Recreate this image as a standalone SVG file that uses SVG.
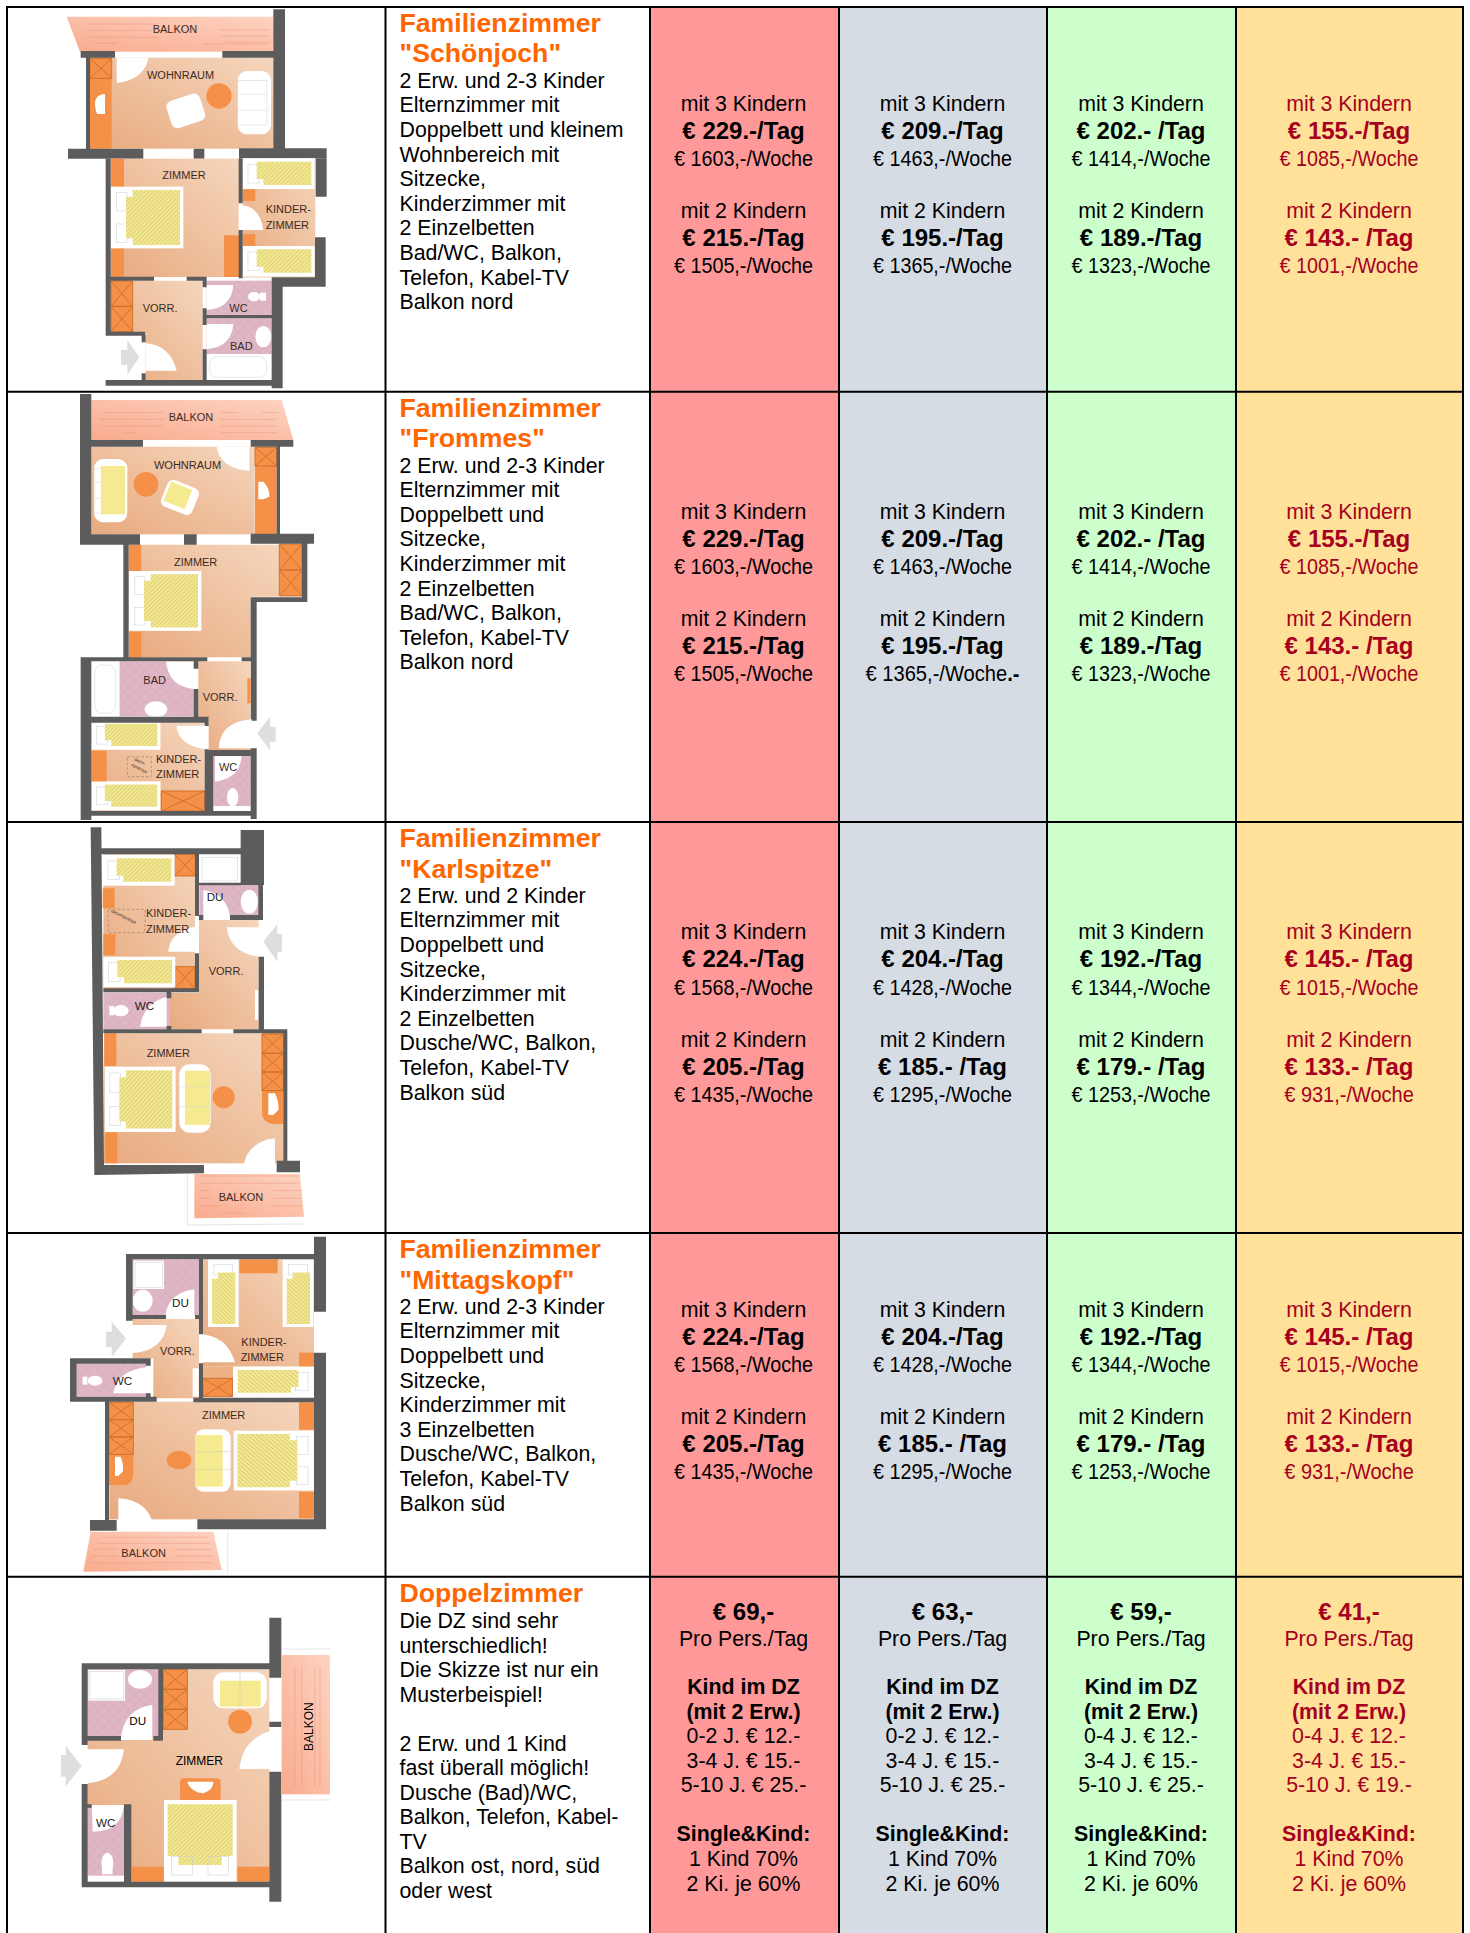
<svg xmlns="http://www.w3.org/2000/svg" width="1470" height="1933" viewBox="0 0 1470 1933">
<style>
text{font-family:"Liberation Sans",Arial,sans-serif;fill:#000}
.t{font-size:26.67px;font-weight:bold;fill:#ff6600}
.d{font-size:21.33px}
.m{font-size:21.33px;text-anchor:middle}
.b{font-size:24px;font-weight:bold;text-anchor:middle}
.s{font-size:21.33px;font-weight:bold;text-anchor:middle}
.w{font-size:21.33px;text-anchor:middle}
.r text,text.r{fill:#a50021}
.l{font-size:33px;fill:#3b2a22}
.k{font-size:35px;fill:#1c1c1c}
.wl{fill:#5c5c5c}
.wh{fill:#fff}
.or{fill:#f59049}
.x{stroke:#d0722c;stroke-width:1;fill:none}
.fl{fill:url(#room)}
.bal{fill:url(#bal)}
.pk{fill:url(#pink)}
.hy{fill:url(#hatch)}
.bl{stroke:#e98f6e;stroke-width:1.2;fill:none}
.ar{fill:#dedede}
.ln{stroke:#c8ccd4;stroke-width:1.5;fill:none}
.dsh{stroke:#8a6a50;stroke-width:1.5;stroke-dasharray:8 6;fill:none}
.rule{stroke:#000;stroke-width:2;fill:none}
</style>
<defs>
<linearGradient id="room" x1="0" y1="1" x2="1" y2="0"><stop offset="0" stop-color="#e8aa7f"/><stop offset="1" stop-color="#f5d6bd"/></linearGradient>
<linearGradient id="bal" x1="0" y1="1" x2="1" y2="0"><stop offset="0" stop-color="#f9ab8e"/><stop offset="1" stop-color="#fdd3c1"/></linearGradient>
<pattern id="hatch" width="9" height="9" patternUnits="userSpaceOnUse" patternTransform="rotate(45)"><rect width="9" height="9" fill="#f3e88f"/><rect width="1.6" height="9" fill="#c9bf6a"/></pattern>
<pattern id="pink" width="22" height="22" patternUnits="userSpaceOnUse" patternTransform="rotate(45)"><rect width="22" height="22" fill="#dfb6c5"/><path d="M0 0H22M0 0V22" stroke="#c496a9" stroke-width="1.2"/></pattern>
<g id="bedS"><rect width="216" height="92" fill="#fff"/><rect x="16" y="18" width="34" height="56" class="ln"/><path class="hy" d="M42 10H206V80H62V62H42Z"/></g>
<g id="bedD"><rect width="217" height="185" fill="#fff"/><rect x="16" y="18" width="32" height="55" class="ln"/><rect x="16" y="112" width="32" height="55" class="ln"/><path class="hy" d="M45 30H65V10H207V175H65V155H45Z"/></g>
<g id="sofa"><rect width="100" height="190" rx="28" fill="#fff"/><rect x="0" y="28" width="88" height="134" fill="none" stroke="#d4d4d4" stroke-width="1.5"/><path d="M0 70H88M0 118H88" stroke="#d4d4d4" stroke-width="1.5"/></g>
<g id="xb"><path class="x" d="M0 0L1 1M1 0L0 1" vector-effect="non-scaling-stroke"/><rect width="1" height="1" class="x" vector-effect="non-scaling-stroke"/></g>
</defs>

<g id="cell-backgrounds">
<rect x="650" y="7" width="189" height="1926" fill="#ff9999"/>
<rect x="839" y="7" width="208" height="1926" fill="#d6dce4"/>
<rect x="1047" y="7" width="189" height="1926" fill="#ccffcc"/>
<rect x="1236" y="7" width="227" height="1926" fill="#ffe199"/>
</g>

<g id="plan-schoenjoch" transform="scale(.33333)">
<path class="bal" d="M200 50H820V155H240Z"/>
<path class="bl" d="M255 72H470M260 92H455M262 112H475M280 130H350M660 90H810M665 108H810M670 126H810M610 132H800"/>
<rect class="fl" x="270" y="173" width="550" height="273"/>
<rect class="or" x="270" y="173" width="65" height="273"/>
<use href="#xb" transform="translate(270 175) scale(65 60)"/>
<path class="wl" d="M820 28h35v420h-35zM242 153h103v20H242zM667 153h155v20H667zM258 173h12v275h-12zM204 446h226v30H204zM581 446h32v30h-32zM717 445h263v30H717z"/>
<path class="wh" d="M350 173H445C440 215 400 245 350 248Z"/>
<path class="wh" d="M285 305Q290 282 315 282V342H292Q285 330 285 305Z"/>
<rect class="wh" x="505" y="290" width="105" height="85" rx="18" transform="rotate(-18 558 333)"/>
<circle class="or" cx="657" cy="288" r="38"/>
<use href="#sofa" transform="translate(713 213)"/>
<rect class="fl" x="332" y="476" width="385" height="355"/>
<path class="or" d="M332 476h40v85h-40zM332 745h40v85h-40zM672 706h45v125h-45z"/>
<use href="#bedD" transform="translate(333 560)"/>
<rect class="fl" x="728" y="475" width="218" height="357"/>
<use href="#bedS" transform="translate(728 475)"/>
<use href="#bedS" transform="translate(728 738)"/>
<path class="or" d="M728 568h38v35h-38zM728 702h38v35h-38z"/>
<path class="wh" d="M716 615Q780 615 790 690H716Z"/>
<path class="fl" d="M332 842H608V1140H437V1005H332Z"/>
<rect class="or" x="332" y="842" width="66" height="153"/>
<use href="#xb" transform="translate(333 843) scale(65 76)"/><use href="#xb" transform="translate(333 919) scale(65 76)"/>
<path class="wh" d="M437 1030Q510 1035 530 1112H437Z"/>
<rect class="pk" x="620" y="842" width="195" height="103"/>
<rect class="pk" x="620" y="955" width="195" height="107"/>
<path class="wh" d="M620 855H700Q695 925 620 930Z"/>
<path class="wh" d="M620 972H700Q695 1040 620 1048Z"/>
<ellipse class="wh" cx="762" cy="890" rx="18" ry="14"/><rect class="wh" x="780" y="878" width="18" height="24"/>
<ellipse class="wh" cx="790" cy="1010" rx="24" ry="32"/>
<rect class="wh" x="620" y="1062" width="195" height="78"/><rect class="ln" x="628" y="1070" width="172" height="62" rx="24"/>
<path class="wl" d="M317 476h15v530h-15zM317 995h118v12H317zM425 1005h12v22h-12zM425 1120h12v22h-12zM317 1140h530v17H317zM815 855h33v310h-33zM947 475h33v115h-33zM945 712h32v148h-32zM815 832h160v28H815zM716 475h12v135h-12zM716 690h12v145h-12zM332 830h130v12H332zM560 830h60v12h-60zM608 842h12v20h-12zM608 925h12v50h-12zM608 1048h12v104h-12zM620 945h195v10H620z"/>
<path class="ar" d="M363 1050H382V1020L418 1072 382 1125V1095H363Z"/>
<g class="lab">
<text class="l" x="458" y="98">BALKON</text><text class="l" x="441" y="236">WOHNRAUM</text><text class="l" x="487" y="537">ZIMMER</text><text class="l" x="797" y="640">KINDER-</text><text class="l" x="797" y="687">ZIMMER</text><text class="l" x="428" y="936">VORR.</text><text class="l" x="688" y="935">WC</text><text class="l" x="690" y="1050">BAD</text>
</g>
</g>

<g id="plan-frommes" transform="translate(0 390) scale(.33333)">
<path class="bal" d="M274 30H845L880 150H274Z"/>
<path class="bl" d="M305 68H490M300 88H495M305 108H490M370 128H405M660 68H715M785 68H835M660 88H830M660 108H830M660 128H830"/>
<rect class="fl" x="274" y="170" width="490" height="263"/>
<rect class="or" x="765" y="170" width="65" height="262"/>
<use href="#xb" transform="translate(765 172) scale(65 56)"/>
<path class="wh" d="M650 170H748V243Q660 235 650 170Z"/>
<path class="wh" d="M775 275H790Q810 295 808 320L790 328H775Z"/>
<use href="#sofa" transform="translate(282 207)"/><rect x="303" y="228" width="72" height="145" fill="#f6ea90"/>
<circle class="or" cx="438" cy="283" r="37"/>
<rect class="wh" x="490" y="280" width="100" height="85" rx="18" transform="rotate(22 540 322)"/>
<rect x="498" y="288" width="68" height="62" fill="#f6ea90" transform="rotate(22 540 322)"/>
<path class="fl" d="M386 464H838V620H752V802H386Z"/>
<rect class="or" x="838" y="462" width="68" height="156"/>
<use href="#xb" transform="translate(838 462) scale(68 78)"/><use href="#xb" transform="translate(838 540) scale(68 78)"/>
<path class="or" d="M386 464h38v80h-38zM386 725h38v78h-38z"/>
<use href="#bedD" transform="translate(387 543) scale(1 .97)"/>
<path class="wl" d="M240 12h34v452h-34zM274 150h155v20H274zM752 150h128v20H752zM830 170h10v262h-10zM240 433h180v31H240zM552 433h38v31h-38zM752 431h190v30H752zM370 464h16v340h-16zM906 461h16v175h-16zM752 622h170v14H752zM752 622h18v370h-18z"/>
<rect class="pk" x="358" y="814" width="223" height="165"/>
<rect class="wh" x="274" y="814" width="84" height="165"/><rect class="ln" x="284" y="825" width="62" height="145" rx="22"/>
<path class="wh" d="M498 814H582V897Q505 890 498 814Z"/>
<ellipse class="wh" cx="468" cy="958" rx="34" ry="24"/>
<rect class="fl" x="274" y="998" width="340" height="265"/>
<use href="#bedS" transform="translate(274 992) scale(.96 .95)"/>
<use href="#bedS" transform="translate(274 1174) scale(.96 .95)"/>
<rect class="or" x="274" y="1082" width="46" height="92"/>
<rect class="or" x="484" y="1203" width="130" height="60"/><use href="#xb" transform="translate(484 1203) scale(130 60)"/>
<path class="wh" d="M530 1007H625V1078Q535 1070 530 1007Z"/>
<path class="fl" d="M595 814H752V1090H626V985H595Z"/>
<rect class="or" x="742" y="865" width="10" height="75"/>
<path class="wh" d="M755 988V1075H656Q660 995 755 988Z"/>
<rect class="pk" x="640" y="1098" width="112" height="150"/>
<path class="wh" d="M645 1098H725Q720 1165 645 1175Z"/>
<ellipse class="wh" cx="698" cy="1222" rx="17" ry="28"/>
<path class="wl" d="M242 802h380v12H242zM725 802h30v12h-30zM242 802h32v488h-32zM581 814h14v22h-14zM581 897h14v100h-14zM274 980h352v18H274zM614 998h12v10h-12zM614 1078h12v190h-12zM626 1080h130v18H626zM752 1075h18v212h-18zM626 1090h14v175h-14zM274 1263h496v14H274z"/>
<path class="ar" d="M772 1030L810 980V1010H827V1055H810V1080Z"/>
<rect class="dsh" x="382" y="1100" width="72" height="60"/>
<text font-size="11" fill="#3b2a22" transform="translate(402 1110) rotate(27)">DACH-</text>
<text font-size="11" fill="#3b2a22" transform="translate(393 1128) rotate(27)">FENSTER</text>
<text class="l" x="506" y="92">BALKON</text><text class="l" x="462" y="236">WOHNRAUM</text><text class="l" x="522" y="527">ZIMMER</text><text class="l" x="430" y="881">BAD</text><text class="l" x="608" y="932">VORR.</text><text class="l" x="468" y="1120">KINDER-</text><text class="l" x="468" y="1163">ZIMMER</text><text class="l" x="657" y="1143">WC</text>
</g>

<g id="plan-karlspitze" transform="translate(0 820) scale(.33333)">
<rect class="fl" x="310" y="103" width="275" height="405"/>
<rect class="or" x="524" y="103" width="62" height="65"/><use href="#xb" transform="translate(524 103) scale(62 65)"/>
<rect class="or" x="525" y="440" width="60" height="65"/><use href="#xb" transform="translate(525 440) scale(60 65)"/>
<use href="#bedS" transform="translate(308 105)"/>
<use href="#bedS" transform="translate(310 410)"/>
<path class="or" d="M308 205h36v60h-36zM310 342h36v64h-36z"/>
<path class="wh" d="M597 318V395H505Q510 330 597 318Z"/>
<rect class="wh" x="600" y="108" width="118" height="80"/><rect class="ln" x="606" y="113" width="106" height="70"/>
<rect class="pk" x="598" y="195" width="178" height="90"/>
<path class="wh" d="M610 210Q680 220 690 290H610Z"/>
<ellipse class="wh" cx="748" cy="245" rx="26" ry="36"/>
<path class="fl" d="M597 300H776V628H510V518H597Z"/>
<path class="wh" d="M680 322H778V410Q690 400 680 322Z"/>
<rect class="wh" x="765" y="510" width="10" height="90"/>
<rect class="pk" x="310" y="518" width="200" height="110"/>
<path class="wh" d="M500 530V620H420Q430 550 500 530Z"/>
<ellipse class="wh" cx="362" cy="572" rx="24" ry="17"/><rect class="wh" x="328" y="558" width="14" height="28"/>
<rect class="fl" x="312" y="640" width="538" height="390"/>
<path class="or" d="M313 640h36v98h-36zM316 937h36v93h-36z"/>
<path class="or" d="M786 640H850V912H815Q786 905 786 880Z"/>
<use href="#xb" transform="translate(786 642) scale(64 58)"/><use href="#xb" transform="translate(786 700) scale(64 56)"/><use href="#xb" transform="translate(786 756) scale(64 56)"/>
<path class="wh" d="M805 820H825Q838 850 835 870L820 885H805Z"/>
<use href="#bedD" transform="translate(314 740) scale(.98 1.06)"/>
<rect class="wh" x="538" y="733" width="94" height="205" rx="30"/><rect x="555" y="752" width="75" height="163" fill="#f6ea90"/><path d="M538 800H630M538 860H630" stroke="#d4d4d4" stroke-width="1.5"/>
<circle class="or" cx="671" cy="832" r="33"/>
<path class="wh" d="M825 955V1055H728Q735 965 825 955Z"/>
<path class="wl" d="M272 22H304L312 1035H612V1060L283 1065ZM304 85h418v18H304zM722 30h70v165h-70zM775 188h14v112h-14zM776 410h16v218h-16zM585 103h12v185h-12zM585 400h12v115h-12zM310 505h285v12H310zM597 188h125v8H597zM597 285h13v15h-13zM690 285h86v15H690zM500 515h14v20h-14zM500 618h14v10h-14zM310 628h295v12H310zM700 628h160v12H700zM850 628h12v400h-12zM830 1022h70v35h-70z"/>
<path class="ar" d="M790 365L832 312V342H846V395H832V425Z"/>
<path class="bal" d="M583 1062H900L912 1190 583 1195Z"/>
<path class="bl" d="M598 1068H895M598 1090H895M598 1112H630M820 1112H905M598 1135H630M820 1135H905M598 1158H660M810 1158H905M665 1180H735"/>
<path class="ln" d="M562 1062V1215L915 1212"/>
<rect class="dsh" x="325" y="268" width="110" height="70"/>
<text font-size="11" fill="#3b2a22" transform="translate(332 275) rotate(27)">DACHFENSTER</text>
<text class="k" x="620" y="242">DU</text><text class="l" x="438" y="291">KINDER-</text><text class="l" x="438" y="340">ZIMMER</text><text class="l" x="626" y="466">VORR.</text><text class="k" x="404" y="570">WC</text><text class="l" x="440" y="712">ZIMMER</text><text class="l" x="656" y="1142">BALKON</text>
</g>

<g id="plan-mittagskopf" transform="translate(0 1230) scale(.33333)">
<rect class="pk" x="398" y="88" width="200" height="167"/>
<rect class="wh" x="400" y="92" width="92" height="85"/><rect class="ln" x="405" y="97" width="82" height="75"/>
<ellipse class="wh" cx="428" cy="212" rx="30" ry="33"/>
<path class="wh" d="M583 178V265H495Q500 190 583 178Z"/>
<rect class="fl" x="609" y="88" width="333" height="322"/>
<rect class="or" x="718" y="88" width="115" height="42"/>
<use href="#bedS" transform="translate(716 88) rotate(90) scale(.94 1)" /><use href="#bedS" transform="translate(940 88) rotate(90) scale(.94 1)"/>
<path class="wh" d="M597 312Q680 315 705 397H597Z"/>
<rect class="or" x="897" y="368" width="45" height="42"/>
<rect x="609" y="410" width="90" height="90" fill="#eeb184"/>
<rect class="or" x="609" y="445" width="88" height="55"/><use href="#xb" transform="translate(609 445) scale(88 55)"/>
<use href="#bedS" transform="translate(942 410) scale(-1.11 .98)"/>
<path class="fl" d="M398 267H597V505H460V385H398Z"/>
<path class="wh" d="M390 285H500Q490 365 390 370Z"/>
<rect class="wh" x="578" y="415" width="18" height="85"/>
<rect class="pk" x="230" y="401" width="208" height="99"/>
<path class="wh" d="M445 410V490H340Q350 420 445 410Z"/>
<ellipse class="wh" cx="285" cy="452" rx="22" ry="15"/><rect class="wh" x="248" y="440" width="14" height="24"/>
<rect class="fl" x="328" y="515" width="614" height="353"/>
<path class="or" d="M327 517H400V735Q398 765 370 765H327Z"/>
<use href="#xb" transform="translate(327 517) scale(73 52)"/><use href="#xb" transform="translate(327 569) scale(73 52)"/><use href="#xb" transform="translate(327 621) scale(73 52)"/>
<path class="wh" d="M345 680H362Q372 705 368 725L355 738H345Z"/>
<path class="or" d="M897 517h45v82h-45zM897 785h45v80h-45z"/>
<rect class="wh" x="585" y="598" width="107" height="187" rx="26"/><rect x="585" y="615" width="83" height="155" fill="#f6ea90"/><path d="M585 665H692M585 718H692" stroke="#c9c9b0" stroke-width="1.5"/>
<ellipse class="or" cx="537" cy="690" rx="37" ry="28"/>
<use href="#bedD" transform="translate(942 602) scale(-1.11 .97)"/>
<path class="wh" d="M355 805Q450 810 462 898H355Z"/>
<path class="wl" d="M942 20h36v225h-36zM942 368h36v530h-36zM378 72h565v16H378zM378 72h20v200h-20zM378 255h120v12H378zM585 255h22v12h-22zM597 88h12v225h-12zM597 400h12v105h-12zM580 503h362v14H580zM210 385h240v16H210zM210 385h20v130h-20zM210 500h260v15H210zM438 385h14v22h-14zM438 490h14v12h-14zM315 515h12v355h-12zM592 868h386v30H592zM270 870h80v32h-80z"/>
<path class="ar" d="M378 325L335 275V305H318V352H335V382Z"/>
<path class="bal" d="M272 905H640L665 1020 250 1025Z"/>
<path class="bl" d="M310 922H625M295 940H630M280 958H355M525 958H635M275 978H355M525 978H640M265 998H640"/>
<path class="ln" d="M683 905V1030"/>
<text class="k" x="516" y="232">DU</text><text class="l" x="480" y="374">VORR.</text><text class="l" x="724" y="347">KINDER-</text><text class="l" x="722" y="392">ZIMMER</text><text class="k" x="338" y="465">WC</text><text class="l" x="606" y="568">ZIMMER</text><text class="l" x="364" y="982">BALKON</text>
</g>

<g id="plan-doppelzimmer" transform="translate(0 1570) scale(.33333)">
<rect class="fl" x="263" y="298" width="545" height="637"/>
<rect class="pk" x="263" y="298" width="225" height="200"/>
<rect class="wh" x="265" y="300" width="110" height="92"/><rect class="ln" x="270" y="305" width="100" height="82"/>
<ellipse class="wh" cx="420" cy="328" rx="36" ry="28"/>
<path class="wh" d="M457 405V510H362Q370 415 457 405Z"/>
<rect class="or" x="490" y="298" width="72" height="180"/>
<use href="#xb" transform="translate(490 298) scale(72 60)"/><use href="#xb" transform="translate(490 358) scale(72 60)"/><use href="#xb" transform="translate(490 418) scale(72 60)"/>
<rect class="wh" x="640" y="307" width="160" height="108" rx="30"/><rect x="660" y="332" width="122" height="78" fill="#f6ea90"/><path d="M720 307V412" stroke="#c9c9b0" stroke-width="1.5"/>
<circle class="or" cx="720" cy="455" r="36"/>
<path class="wh" d="M843 477V597H718Q730 490 843 477Z"/>
<path class="wh" d="M245 538H372Q360 640 245 640Z"/>
<rect class="pk" x="263" y="712" width="120" height="205"/>
<rect class="wh" x="263" y="917" width="120" height="18"/>
<path class="wh" d="M275 705H372Q365 785 278 785Z"/>
<ellipse class="wh" cx="322" cy="880" rx="18" ry="32"/><rect class="wh" x="306" y="895" width="32" height="18"/>
<rect class="or" x="540" y="625" width="122" height="70" rx="12"/>
<path class="wh" d="M563 635H640Q640 660 610 670Q575 668 563 640Z"/>
<rect class="wh" x="492" y="690" width="218" height="245"/>
<path class="hy" d="M503 703H698V858H665V885H535V858H503Z"/>
<rect class="ln" x="515" y="860" width="62" height="55"/><rect class="ln" x="624" y="860" width="62" height="55"/>
<path class="or" d="M396 890h95v45h-95zM712 890h95v45h-95z"/>
<path class="wl" d="M245 280h565v18H245zM245 280h18v245h-18zM245 642h18v310h-18zM245 935h565v17H245zM808 143h36v180h-36zM808 455h36v16h-36zM808 605h36v390h-36zM475 298h14v212h-14zM263 498h100v14H263zM460 498h28v14h-28zM263 703h12v10h-12zM372 703h22v232h-22z"/>
<path class="ar" d="M197 527V555H183V620H197V650L245 588Z"/>
<rect class="bal" x="845" y="255" width="145" height="418"/>
<path class="bl" d="M885 290V650M905 290V650M945 290V650M960 290V650"/>
<path class="ln" d="M845 237H992M845 690H992"/>
<text font-size="35" fill="#1c1c1c" x="388" y="466">DU</text><text font-size="36" fill="#1c1c1c" x="527" y="585">ZIMMER</text><text class="k" x="288" y="770">WC</text>
<text font-size="36" fill="#1c1c1c" transform="translate(939 543) rotate(-90)">BALKON</text>
</g>

<g id="descriptions">
<g id="desc-1"><text class="t" x="399.5" y="32">Familienzimmer</text><text class="t" x="399.5" y="62">"Schönjoch"</text>
<text class="d" x="399.5" y="87.8">2 Erw. und 2-3 Kinder</text><text class="d" x="399.5" y="112.4">Elternzimmer mit</text><text class="d" x="399.5" y="137">Doppelbett und kleinem</text><text class="d" x="399.5" y="161.6">Wohnbereich mit</text><text class="d" x="399.5" y="186.2">Sitzecke,</text><text class="d" x="399.5" y="210.8">Kinderzimmer mit</text><text class="d" x="399.5" y="235.4">2 Einzelbetten</text><text class="d" x="399.5" y="260">Bad/WC, Balkon,</text><text class="d" x="399.5" y="284.6">Telefon, Kabel-TV</text><text class="d" x="399.5" y="309.2">Balkon nord</text></g>
<g id="desc-2"><text class="t" x="399.5" y="416.8">Familienzimmer</text><text class="t" x="399.5" y="447.4">"Frommes"</text>
<text class="d" x="399.5" y="472.6">2 Erw. und 2-3 Kinder</text><text class="d" x="399.5" y="497.2">Elternzimmer mit</text><text class="d" x="399.5" y="521.8">Doppelbett und</text><text class="d" x="399.5" y="546.4">Sitzecke,</text><text class="d" x="399.5" y="571">Kinderzimmer mit</text><text class="d" x="399.5" y="595.6">2 Einzelbetten</text><text class="d" x="399.5" y="620.2">Bad/WC, Balkon,</text><text class="d" x="399.5" y="644.8">Telefon, Kabel-TV</text><text class="d" x="399.5" y="669.4">Balkon nord</text></g>
<g id="desc-3"><text class="t" x="399.5" y="847">Familienzimmer</text><text class="t" x="399.5" y="877.6">"Karlspitze"</text>
<text class="d" x="399.5" y="902.8">2 Erw. und 2 Kinder</text><text class="d" x="399.5" y="927.4">Elternzimmer mit</text><text class="d" x="399.5" y="952">Doppelbett und</text><text class="d" x="399.5" y="976.6">Sitzecke,</text><text class="d" x="399.5" y="1001.2">Kinderzimmer mit</text><text class="d" x="399.5" y="1025.8">2 Einzelbetten</text><text class="d" x="399.5" y="1050.4">Dusche/WC, Balkon,</text><text class="d" x="399.5" y="1075">Telefon, Kabel-TV</text><text class="d" x="399.5" y="1099.6">Balkon süd</text></g>
<g id="desc-4"><text class="t" x="399.5" y="1258">Familienzimmer</text><text class="t" x="399.5" y="1288.6">"Mittagskopf"</text>
<text class="d" x="399.5" y="1313.8">2 Erw. und 2-3 Kinder</text><text class="d" x="399.5" y="1338.4">Elternzimmer mit</text><text class="d" x="399.5" y="1363">Doppelbett und</text><text class="d" x="399.5" y="1387.6">Sitzecke,</text><text class="d" x="399.5" y="1412.2">Kinderzimmer mit</text><text class="d" x="399.5" y="1436.8">3 Einzelbetten</text><text class="d" x="399.5" y="1461.4">Dusche/WC, Balkon,</text><text class="d" x="399.5" y="1486">Telefon, Kabel-TV</text><text class="d" x="399.5" y="1510.6">Balkon süd</text></g>
<g id="desc-5"><text class="t" x="399.5" y="1602">Doppelzimmer</text>
<text class="d" x="399.5" y="1628">Die DZ sind sehr</text><text class="d" x="399.5" y="1652.5">unterschiedlich!</text><text class="d" x="399.5" y="1677">Die Skizze ist nur ein</text><text class="d" x="399.5" y="1701.5">Musterbeispiel!</text><text class="d" x="399.5" y="1750.5">2 Erw. und 1 Kind</text><text class="d" x="399.5" y="1775">fast überall möglich!</text><text class="d" x="399.5" y="1799.5">Dusche (Bad)/WC,</text><text class="d" x="399.5" y="1824">Balkon, Telefon, Kabel-</text><text class="d" x="399.5" y="1848.5">TV</text><text class="d" x="399.5" y="1873">Balkon ost, nord, süd</text><text class="d" x="399.5" y="1897.5">oder west</text></g>
</g>

<g id="prices">
<g id="prices-1">
<text class="m" x="743.5" y="110.7">mit 3 Kindern</text><text class="b" x="743.5" y="138.5">€ 229.-/Tag</text><text class="w" x="743.5" y="166" textLength="139" lengthAdjust="spacingAndGlyphs">€ 1603,-/Woche</text><text class="m" x="743.5" y="218">mit 2 Kindern</text><text class="b" x="743.5" y="246">€ 215.-/Tag</text><text class="w" x="743.5" y="273" textLength="139" lengthAdjust="spacingAndGlyphs">€ 1505,-/Woche</text>
<text class="m" x="942.5" y="110.7">mit 3 Kindern</text><text class="b" x="942.5" y="138.5">€ 209.-/Tag</text><text class="w" x="942.5" y="166" textLength="139" lengthAdjust="spacingAndGlyphs">€ 1463,-/Woche</text><text class="m" x="942.5" y="218">mit 2 Kindern</text><text class="b" x="942.5" y="246">€ 195.-/Tag</text><text class="w" x="942.5" y="273" textLength="139" lengthAdjust="spacingAndGlyphs">€ 1365,-/Woche</text>
<text class="m" x="1141" y="110.7">mit 3 Kindern</text><text class="b" x="1141" y="138.5">€ 202.- /Tag</text><text class="w" x="1141" y="166" textLength="139" lengthAdjust="spacingAndGlyphs">€ 1414,-/Woche</text><text class="m" x="1141" y="218">mit 2 Kindern</text><text class="b" x="1141" y="246">€ 189.-/Tag</text><text class="w" x="1141" y="273" textLength="139" lengthAdjust="spacingAndGlyphs">€ 1323,-/Woche</text>
<g class="r"><text class="m" x="1349" y="110.7">mit 3 Kindern</text><text class="b" x="1349" y="138.5">€ 155.-/Tag</text><text class="w" x="1349" y="166" textLength="139" lengthAdjust="spacingAndGlyphs">€ 1085,-/Woche</text><text class="m" x="1349" y="218">mit 2 Kindern</text><text class="b" x="1349" y="246">€ 143.- /Tag</text><text class="w" x="1349" y="273" textLength="139" lengthAdjust="spacingAndGlyphs">€ 1001,-/Woche</text></g>
</g>
<g id="prices-2" transform="translate(0 408)">
<text class="m" x="743.5" y="110.7">mit 3 Kindern</text><text class="b" x="743.5" y="138.5">€ 229.-/Tag</text><text class="w" x="743.5" y="166" textLength="139" lengthAdjust="spacingAndGlyphs">€ 1603,-/Woche</text><text class="m" x="743.5" y="218">mit 2 Kindern</text><text class="b" x="743.5" y="246">€ 215.-/Tag</text><text class="w" x="743.5" y="273" textLength="139" lengthAdjust="spacingAndGlyphs">€ 1505,-/Woche</text>
<text class="m" x="942.5" y="110.7">mit 3 Kindern</text><text class="b" x="942.5" y="138.5">€ 209.-/Tag</text><text class="w" x="942.5" y="166" textLength="139" lengthAdjust="spacingAndGlyphs">€ 1463,-/Woche</text><text class="m" x="942.5" y="218">mit 2 Kindern</text><text class="b" x="942.5" y="246">€ 195.-/Tag</text><text class="w" x="942.5" y="273" textLength="154" lengthAdjust="spacingAndGlyphs">€ 1365,-/Woche<tspan font-weight="bold">.-</tspan></text>
<text class="m" x="1141" y="110.7">mit 3 Kindern</text><text class="b" x="1141" y="138.5">€ 202.- /Tag</text><text class="w" x="1141" y="166" textLength="139" lengthAdjust="spacingAndGlyphs">€ 1414,-/Woche</text><text class="m" x="1141" y="218">mit 2 Kindern</text><text class="b" x="1141" y="246">€ 189.-/Tag</text><text class="w" x="1141" y="273" textLength="139" lengthAdjust="spacingAndGlyphs">€ 1323,-/Woche</text>
<g class="r"><text class="m" x="1349" y="110.7">mit 3 Kindern</text><text class="b" x="1349" y="138.5">€ 155.-/Tag</text><text class="w" x="1349" y="166" textLength="139" lengthAdjust="spacingAndGlyphs">€ 1085,-/Woche</text><text class="m" x="1349" y="218">mit 2 Kindern</text><text class="b" x="1349" y="246">€ 143.- /Tag</text><text class="w" x="1349" y="273" textLength="139" lengthAdjust="spacingAndGlyphs">€ 1001,-/Woche</text></g>
</g>
<g id="prices-3" transform="translate(0 828.5)">
<text class="m" x="743.5" y="110.7">mit 3 Kindern</text><text class="b" x="743.5" y="138.5">€ 224.-/Tag</text><text class="w" x="743.5" y="166" textLength="139" lengthAdjust="spacingAndGlyphs">€ 1568,-/Woche</text><text class="m" x="743.5" y="218">mit 2 Kindern</text><text class="b" x="743.5" y="246">€ 205.-/Tag</text><text class="w" x="743.5" y="273" textLength="139" lengthAdjust="spacingAndGlyphs">€ 1435,-/Woche</text>
<text class="m" x="942.5" y="110.7">mit 3 Kindern</text><text class="b" x="942.5" y="138.5">€ 204.-/Tag</text><text class="w" x="942.5" y="166" textLength="139" lengthAdjust="spacingAndGlyphs">€ 1428,-/Woche</text><text class="m" x="942.5" y="218">mit 2 Kindern</text><text class="b" x="942.5" y="246">€ 185.- /Tag</text><text class="w" x="942.5" y="273" textLength="139" lengthAdjust="spacingAndGlyphs">€ 1295,-/Woche</text>
<text class="m" x="1141" y="110.7">mit 3 Kindern</text><text class="b" x="1141" y="138.5">€ 192.-/Tag</text><text class="w" x="1141" y="166" textLength="139" lengthAdjust="spacingAndGlyphs">€ 1344,-/Woche</text><text class="m" x="1141" y="218">mit 2 Kindern</text><text class="b" x="1141" y="246">€ 179.- /Tag</text><text class="w" x="1141" y="273" textLength="139" lengthAdjust="spacingAndGlyphs">€ 1253,-/Woche</text>
<g class="r"><text class="m" x="1349" y="110.7">mit 3 Kindern</text><text class="b" x="1349" y="138.5">€ 145.- /Tag</text><text class="w" x="1349" y="166" textLength="139" lengthAdjust="spacingAndGlyphs">€ 1015,-/Woche</text><text class="m" x="1349" y="218">mit 2 Kindern</text><text class="b" x="1349" y="246">€ 133.- /Tag</text><text class="w" x="1349" y="273" textLength="129.5" lengthAdjust="spacingAndGlyphs">€ 931,-/Woche</text></g>
</g>
<g id="prices-4" transform="translate(0 1206)">
<text class="m" x="743.5" y="110.7">mit 3 Kindern</text><text class="b" x="743.5" y="138.5">€ 224.-/Tag</text><text class="w" x="743.5" y="166" textLength="139" lengthAdjust="spacingAndGlyphs">€ 1568,-/Woche</text><text class="m" x="743.5" y="218">mit 2 Kindern</text><text class="b" x="743.5" y="246">€ 205.-/Tag</text><text class="w" x="743.5" y="273" textLength="139" lengthAdjust="spacingAndGlyphs">€ 1435,-/Woche</text>
<text class="m" x="942.5" y="110.7">mit 3 Kindern</text><text class="b" x="942.5" y="138.5">€ 204.-/Tag</text><text class="w" x="942.5" y="166" textLength="139" lengthAdjust="spacingAndGlyphs">€ 1428,-/Woche</text><text class="m" x="942.5" y="218">mit 2 Kindern</text><text class="b" x="942.5" y="246">€ 185.- /Tag</text><text class="w" x="942.5" y="273" textLength="139" lengthAdjust="spacingAndGlyphs">€ 1295,-/Woche</text>
<text class="m" x="1141" y="110.7">mit 3 Kindern</text><text class="b" x="1141" y="138.5">€ 192.-/Tag</text><text class="w" x="1141" y="166" textLength="139" lengthAdjust="spacingAndGlyphs">€ 1344,-/Woche</text><text class="m" x="1141" y="218">mit 2 Kindern</text><text class="b" x="1141" y="246">€ 179.- /Tag</text><text class="w" x="1141" y="273" textLength="139" lengthAdjust="spacingAndGlyphs">€ 1253,-/Woche</text>
<g class="r"><text class="m" x="1349" y="110.7">mit 3 Kindern</text><text class="b" x="1349" y="138.5">€ 145.- /Tag</text><text class="w" x="1349" y="166" textLength="139" lengthAdjust="spacingAndGlyphs">€ 1015,-/Woche</text><text class="m" x="1349" y="218">mit 2 Kindern</text><text class="b" x="1349" y="246">€ 133.- /Tag</text><text class="w" x="1349" y="273" textLength="129.5" lengthAdjust="spacingAndGlyphs">€ 931,-/Woche</text></g>
</g>
<g id="prices-5">
<text class="b" x="743.5" y="1620">€ 69,-</text><text class="m" x="743.5" y="1646">Pro Pers./Tag</text><text class="s" x="743.5" y="1694">Kind im DZ</text><text class="s" x="743.5" y="1718.7">(mit 2 Erw.)</text><text class="m" x="743.5" y="1743.3">0-2 J. € 12.-</text><text class="m" x="743.5" y="1768">3-4 J. € 15.-</text><text class="m" x="743.5" y="1792">5-10 J. € 25.-</text><text class="s" x="743.5" y="1841.3">Single&amp;Kind:</text><text class="m" x="743.5" y="1866">1 Kind 70%</text><text class="m" x="743.5" y="1890.7">2 Ki. je 60%</text>
<text class="b" x="942.5" y="1620">€ 63,-</text><text class="m" x="942.5" y="1646">Pro Pers./Tag</text><text class="s" x="942.5" y="1694">Kind im DZ</text><text class="s" x="942.5" y="1718.7">(mit 2 Erw.)</text><text class="m" x="942.5" y="1743.3">0-2 J. € 12.-</text><text class="m" x="942.5" y="1768">3-4 J. € 15.-</text><text class="m" x="942.5" y="1792">5-10 J. € 25.-</text><text class="s" x="942.5" y="1841.3">Single&amp;Kind:</text><text class="m" x="942.5" y="1866">1 Kind 70%</text><text class="m" x="942.5" y="1890.7">2 Ki. je 60%</text>
<text class="b" x="1141" y="1620">€ 59,-</text><text class="m" x="1141" y="1646">Pro Pers./Tag</text><text class="s" x="1141" y="1694">Kind im DZ</text><text class="s" x="1141" y="1718.7">(mit 2 Erw.)</text><text class="m" x="1141" y="1743.3">0-4 J. € 12.-</text><text class="m" x="1141" y="1768">3-4 J. € 15.-</text><text class="m" x="1141" y="1792">5-10 J. € 25.-</text><text class="s" x="1141" y="1841.3">Single&amp;Kind:</text><text class="m" x="1141" y="1866">1 Kind 70%</text><text class="m" x="1141" y="1890.7">2 Ki. je 60%</text>
<g class="r"><text class="b" x="1349" y="1620">€ 41,-</text><text class="m" x="1349" y="1646">Pro Pers./Tag</text><text class="s" x="1349" y="1694">Kind im DZ</text><text class="s" x="1349" y="1718.7">(mit 2 Erw.)</text><text class="m" x="1349" y="1743.3">0-4 J. € 12.-</text><text class="m" x="1349" y="1768">3-4 J. € 15.-</text><text class="m" x="1349" y="1792">5-10 J. € 19.-</text><text class="s" x="1349" y="1841.3">Single&amp;Kind:</text><text class="m" x="1349" y="1866">1 Kind 70%</text><text class="m" x="1349" y="1890.7">2 Ki. je 60%</text></g>
</g>
</g>

<g id="table-rules">
<path class="rule" d="M6 7H1464M6 391.7H1464M6 822H1464M6 1233H1464M6 1576.7H1464M7 6V1933M385.5 6V1933M650 6V1933M839 6V1933M1047 6V1933M1236 6V1933M1463 6V1933"/>
</g>
</svg>
